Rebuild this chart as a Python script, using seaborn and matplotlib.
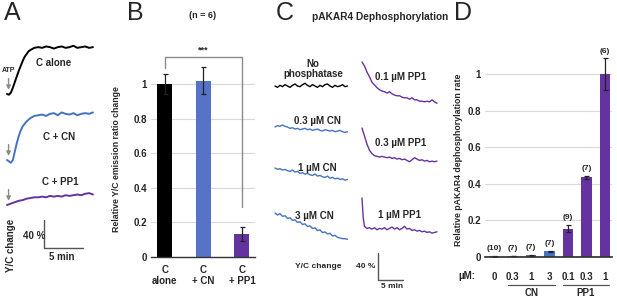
import numpy as np
import pandas as pd
import matplotlib
matplotlib.use("Agg")
import matplotlib.pyplot as plt
import seaborn as sns

# ---------------- data ----------------
# Panel A: Y/C change (%) vs time (min)
a_time_alone = [0, 0.25, 0.5, 0.75, 1.0, 1.25, 1.5, 1.75, 2.0, 2.25, 2.5, 2.75, 3.0,
                3.5, 4.0, 4.5, 5.0, 5.5, 6.0, 6.5, 7.0, 7.5, 8.0, 8.5, 9.0, 9.5, 10.0, 10.5, 11.0]
a_alone = [0, -1, 2, 9, 17, 25, 33, 40, 47, 53, 57, 61, 63,
           66, 67, 66, 68, 67, 65, 67, 68, 66, 67, 69, 66, 67, 68, 66, 67]
a_time_cn = [0, 0.25, 0.5, 0.75, 1.0, 1.25, 1.5, 1.75, 2.0,
             2.5, 3.0, 3.5, 4.0, 4.5, 5.0, 5.5, 6.0, 6.5, 7.0, 7.5, 8.0, 8.5, 9.0, 9.5, 10.0, 10.5, 11.0]
a_cn = [0, -2, -4, 0, 12, 24, 34, 42, 48,
        55, 60, 63, 64, 65, 63, 66, 67, 64, 68, 66, 65, 67, 64, 66, 67, 66, 68]
a_time_pp1 = [0, 0.5, 1.0, 1.5, 2.0, 2.5, 3.0, 3.5, 4.0, 4.5, 5.0, 5.5, 6.0, 6.5, 7.0,
              7.5, 8.0, 8.5, 9.0, 9.5, 10.0, 10.5, 11.0]
a_pp1 = [0, 2, 4, 6, 7, 9, 10, 11, 11, 12, 11, 13, 12, 13, 12, 14, 13, 14, 15, 14, 16, 17, 15]
a_labels = ["C alone", "C + CN", "C + PP1"]

# Panel B
b_groups = ["C\nalone", "C\n+ CN", "C\n+ PP1"]
b_values = [1.0, 1.02, 0.135]
b_err = [0.055, 0.078, 0.04]

# Panel C: Y/C change (%) vs time (min)
c_time_left = [0, 0.5, 1.0, 1.5, 2.0, 2.5, 3.0, 3.5, 4.0, 4.5, 5.0, 5.5, 6.0, 6.5, 7.0,
               7.5, 8.0, 8.5, 9.0, 9.5, 10.0, 10.5, 11.0, 11.5, 12.0, 12.5, 13.0, 13.5, 14.0, 14.5]
c_nophos = [0, -2, 1, -1, 2, 0, -2, 1, 3, 0, -1, 2, 4, 1, -1, 2, 0, -2, 1, -1, 2, 3, 0, -2, 1, -1, 0, 2, -1, 0]
c_cn03 = [0, 2, 1, 3, 1, 0, -2, -1, -3, -2, -4, -3, -2, -4, -3, -5, -4, -3, -5, -6, -4, -5, -6, -5, -7, -6, -5, -7, -8, -7]
c_cn1 = [0, -2, -1, -3, -2, -4, -5, -3, -6, -5, -8, -7, -9, -8, -10, -11, -9, -12, -11, -13, -14, -12, -15, -14, -16, -15, -17, -16, -18, -17]
c_cn3 = [0, -3, -1, -5, -4, -8, -7, -11, -10, -14, -13, -17, -16, -20, -19, -23, -22, -26, -25, -29, -28, -31, -30, -34, -33, -36, -37, -38, -38, -39]
c_time_right = [0, 0.5, 1.0, 1.5, 2.0, 2.5, 3.0, 3.5, 4.0, 4.5, 5.0, 5.5, 6.0, 6.5, 7.0, 7.5,
                8.0, 8.5, 9.0, 9.5, 10.0, 10.5, 11.0, 11.5, 12.0, 12.5, 13.0, 13.5, 14.0, 14.5, 15.0]
c_pp01 = [0, -6, -15, -22, -30, -34, -38, -41, -43, -44, -46, -44, -47, -49, -50, -50,
          -52, -53, -53, -55, -53, -56, -56, -58, -58, -59, -58, -59, -56, -59, -61]
c_pp03 = [0, -12, -24, -33, -38, -41, -42, -43, -42, -43, -44, -43, -45, -44, -46, -45,
          -47, -46, -48, -50, -47, -44, -46, -48, -47, -49, -48, -50, -49, -50, -49]
c_time_pp1 = [0, 0.25, 0.5, 1.0, 1.5, 2.0, 2.5, 3.0, 3.5, 4.0, 4.5, 5.0, 5.5, 6.0, 6.5, 7.0, 7.5,
              8.0, 8.5, 9.0, 9.5, 10.0, 10.5, 11.0, 11.5, 12.0, 12.5, 13.0, 13.5, 14.0, 14.5, 15.0]
c_pp1 = [0, -30, -42, -45, -44, -46, -44, -47, -45, -46, -44, -47, -45, -43, -46, -44, -47,
         -45, -42, -46, -45, -48, -47, -49, -48, -50, -49, -51, -50, -52, -51, -50]
c_labels_left = ["No\nphosphatase", "0.3 µM CN", "1 µM CN", "3 µM CN"]
c_labels_right = ["0.1 µM PP1", "0.3 µM PP1", "1 µM PP1"]

# Panel D
d_conc = ["0", "0.3", "1", "3", "0.1", "0.3", "1"]
d_values = [0.003, 0.006, 0.010, 0.032, 0.155, 0.435, 1.0]
d_err = [0.002, 0.002, 0.003, 0.003, 0.02, 0.007, 0.085]
d_n = ["(10)", "(7)", "(7)", "(7)", "(9)", "(7)", "(6)"]
d_enzyme = ["none", "CN", "CN", "CN", "PP1", "PP1", "PP1"]

# ---------------- style ----------------
sns.set_theme(style="white")
plt.rcParams['font.family'] = ['Liberation Sans', 'DejaVu Sans']
plt.rcParams['font.weight'] = 'bold'
plt.rcParams['axes.labelweight'] = 'bold'

BLACK = "#000000"
BLUE = "#4473C4"
BLUE_BAR = "#5673C8"
PURPLE = "#6533A0"
GRAY = "#8a8a8a"
FS = 7

W, H = 617, 297
fig = plt.figure(figsize=(W / 100, H / 100), dpi=100)


def px_axes(x0, y0, x1, y1):
    return fig.add_axes([x0 / W, 1 - y1 / H, (x1 - x0) / W, (y1 - y0) / H])


def ftext(x, y, s, **kw):
    kw.setdefault("fontsize", FS)
    kw.setdefault("fontweight", "bold")
    kw.setdefault("ha", "center")
    kw.setdefault("va", "center")
    return fig.text(x / W, 1 - y / H, s, **kw)


# panel letters
for letter, x in [("A", 4), ("B", 127), ("C", 276), ("D", 454)]:
    ftext(x, 13, letter, fontsize=18, fontweight="normal", ha="left")

# ---------------- Panel A ----------------
axA = px_axes(0, 30, 100, 262)
axA.set_xlim((0 - 7) * 0.128, (100 - 7) * 0.128)   # min
axA.set_ylim(0, (262 - 30) * 1.43)                    # %
axA.axis("off")
a_offsets = [(262 - 94) * 1.43, (262 - 160) * 1.43, (262 - 205) * 1.43]
a_series = [(a_time_alone, a_alone, BLACK), (a_time_cn, a_cn, BLUE), (a_time_pp1, a_pp1, PURPLE)]
for (t, v, col), off in zip(a_series, a_offsets):
    sns.lineplot(x=t, y=np.array(v) + off, ax=axA, color=col, lw=1.4)
    axA.annotate("", xy=(0.2, off + 2), xytext=(0.2, off + 26),
                 arrowprops=dict(arrowstyle="-|>", color=GRAY, lw=1.0, mutation_scale=6))
ftext(2, 70, "ATP", fontsize=5, ha="left")
for lab, (x, y) in zip(a_labels, [(54, 63), (59, 137), (60, 182)]):
    ftext(x, y, lab)
# scale bar: 40 % and 5 min
sb_x0 = (44 - 7) * 0.128
sb_y0 = (262 - 248) * 1.43
axA.plot([sb_x0, sb_x0, sb_x0 + 5], [sb_y0 + 40, sb_y0, sb_y0], color="#555555", lw=1)
ftext(34, 236, "40 %")
ftext(62, 257, "5 min")
ftext(11, 245, "Y/C change", rotation=90)

# ---------------- Panel B ----------------
b_ymax = 1.2
axB = px_axes(151, 257 - 173 * b_ymax, 255, 257)
dfB = pd.DataFrame({"group": b_groups, "value": b_values})
sns.barplot(data=dfB, x="group", y="value", hue="group", order=b_groups,
            palette=[BLACK, BLUE_BAR, PURPLE], width=0.39, legend=False,
            errorbar=None, ax=axB, edgecolor="none", saturation=1)
axB.errorbar(range(3), b_values, yerr=b_err, fmt="none", ecolor="#222222",
             elinewidth=0.9, capsize=1.8, capthick=0.9)
axB.set_xlim(-0.36, 2.34)
axB.set_ylim(0, b_ymax)
axB.set_yticks([0, 0.2, 0.4, 0.6, 0.8, 1.0])
axB.set_yticklabels(["0", "0.2", "0.4", "0.6", "0.8", "1"])
axB.yaxis.grid(True, color="#d8d8d8", lw=0.8)
axB.set_axisbelow(True)
for s in ["left", "right", "top"]:
    axB.spines[s].set_visible(False)
axB.spines["bottom"].set_color("#333333")
axB.spines["bottom"].set_linewidth(1.0)
axB.tick_params(axis="y", length=0, pad=3, labelsize=FS)
axB.tick_params(axis="x", length=0, pad=6, labelsize=FS)
for lab in axB.get_xticklabels() + axB.get_yticklabels():
    lab.set_fontweight("bold")
for lab in axB.get_xticklabels():
    lab.set_linespacing(1.1)
axB.set_xlabel("")
axB.set_ylabel("Relative Y/C emission ratio change", fontsize=6.3, fontweight="bold")
axB.yaxis.set_label_coords((121 - 151) / 104, 0.47)
# significance bracket
bracket_top = 1.155
axB.plot([0, 0, 2, 2], [b_values[0] + b_err[0] + 0.035, bracket_top, bracket_top, 0.29],
         color=GRAY, lw=1.0, clip_on=False)
axB.text(1, bracket_top + 0.015, "***", ha="center", va="bottom", fontsize=6.5, fontweight="bold")
ftext(203, 15, "(n = 6)", fontsize=6.5)

# ---------------- Panel C ----------------
axC = px_axes(270, 40, 445, 297)
axC.set_xlim((270 - 275) * 0.2, (445 - 275) * 0.2)
axC.set_ylim(0, (297 - 40) * 1.48)
axC.axis("off")
right_shift = (362 - 275) * 0.2
left_traces = [(c_nophos, 86, BLACK), (c_cn03, 127, BLUE), (c_cn1, 168, BLUE), (c_cn3, 213, BLUE)]
for v, py, col in left_traces:
    sns.lineplot(x=c_time_left, y=np.array(v) + (297 - py) * 1.48, ax=axC, color=col, lw=1.0)
right_traces = [(c_time_right, c_pp01, 62), (c_time_right, c_pp03, 128), (c_time_pp1, c_pp1, 198)]
for t, v, py in right_traces:
    sns.lineplot(x=np.array(t) + right_shift, y=np.array(v) + (297 - py) * 1.48,
                 ax=axC, color=PURPLE, lw=1.0)
for lab, (x, y) in zip(c_labels_left, [(313, 69), (317, 121), (317, 168), (314, 216)]):
    ftext(x, y, lab, linespacing=1.1)
for lab, (x, y) in zip(c_labels_right, [(401, 77), (401, 143), (400, 215)]):
    ftext(x, y, lab)
ftext(380, 17, "pAKAR4 Dephosphorylation", fontsize=7.3, ha="center")
sc_x0 = (378 - 275) * 0.2
sc_y0 = (297 - 280) * 1.48
axC.plot([sc_x0, sc_x0, sc_x0 + 5], [sc_y0 + 40, sc_y0, sc_y0], color="#555555", lw=1)
ftext(318, 267, "Y/C change", fontsize=6)
ftext(366, 267, "40 %", fontsize=6)
ftext(392, 287, "5 min", fontsize=6)

# ---------------- Panel D ----------------
d_ymax = 1.15
axD = px_axes(485, 257 - 183 * d_ymax, 612, 257)
d_ids = [f"{e}_{c}_{i}" for i, (e, c) in enumerate(zip(d_enzyme, d_conc))]
d_pal = {k: (PURPLE if e == "PP1" else BLUE) for k, e in zip(d_ids, d_enzyme)}
dfD = pd.DataFrame({"id": d_ids, "value": d_values})
sns.barplot(data=dfD, x="id", y="value", hue="id", order=d_ids, palette=d_pal,
            width=0.58, legend=False, errorbar=None, ax=axD, edgecolor="none", saturation=1)
axD.errorbar(range(7), d_values, yerr=d_err, fmt="none", ecolor="#222222",
             elinewidth=0.9, capsize=1.8, capthick=0.9)
for i, (v, e, n) in enumerate(zip(d_values, d_err, d_n)):
    axD.text(i, v + e + 0.02, n, ha="center", va="bottom", fontsize=6, fontweight="bold")
axD.set_xlim(-0.49, 6.38)
axD.set_ylim(0, d_ymax)
axD.set_yticks([0, 0.2, 0.4, 0.6, 0.8, 1.0])
axD.set_yticklabels(["0", "0.2", "0.4", "0.6", "0.8", "1"])
axD.set_xticks(range(7))
axD.set_xticklabels(d_conc)
axD.yaxis.grid(True, color="#d8d8d8", lw=0.8)
axD.set_axisbelow(True)
for s in ["left", "right", "top"]:
    axD.spines[s].set_visible(False)
axD.spines["bottom"].set_color("#333333")
axD.tick_params(axis="y", length=0, pad=3, labelsize=FS)
axD.tick_params(axis="x", length=0, pad=11, labelsize=FS)
for lab in axD.get_xticklabels() + axD.get_yticklabels():
    lab.set_fontweight("bold")
axD.set_xlabel("")
axD.set_ylabel("Relative pAKAR4 dephosphorylation rate", fontsize=6.3, fontweight="bold")
axD.yaxis.set_label_coords((463 - 485) / 127, 0.46)
ftext(467, 276, "µM:")
# group underlines
for name, (a, b) in [("CN", (0.76, 3.3)), ("PP1", (3.73, 6.2))]:
    axD.plot([a, b], [-0.153, -0.153], color="#555555", lw=0.9, clip_on=False)
    axD.text((a + b) / 2, -0.195, name, ha="center", va="center", fontsize=FS, fontweight="bold")

fig.savefig("out.png", dpi=100)
